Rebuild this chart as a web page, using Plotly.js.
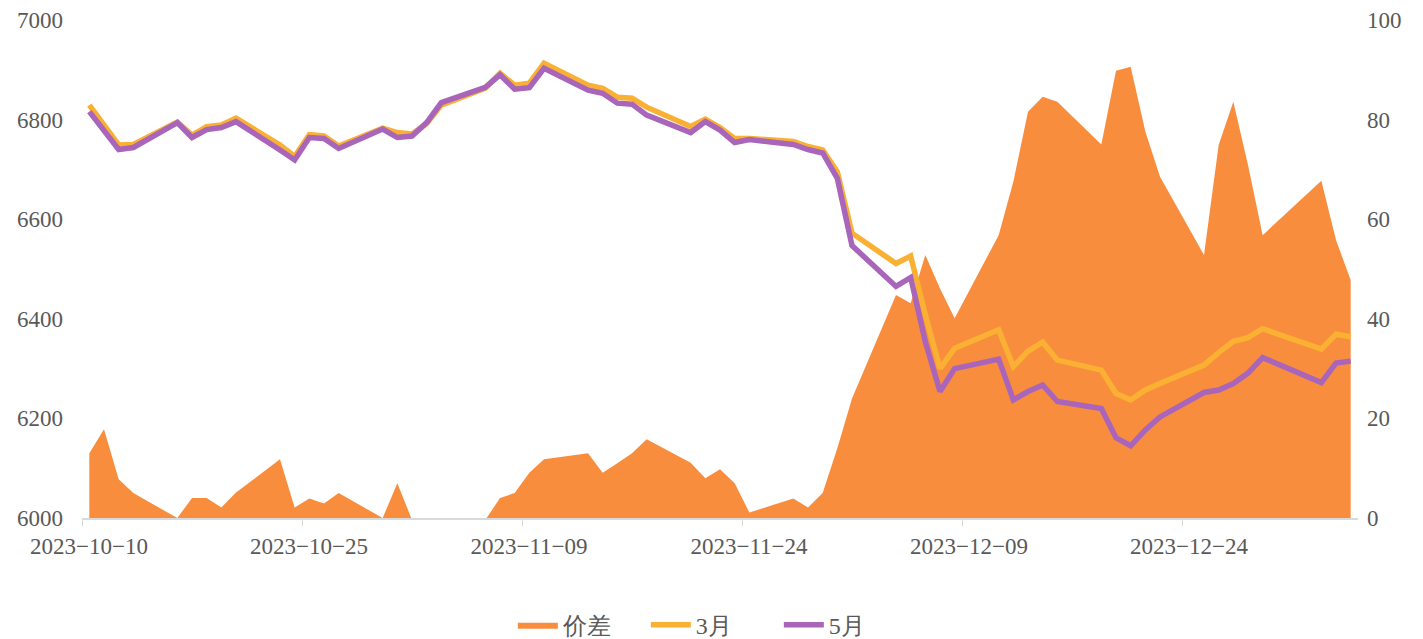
<!DOCTYPE html>
<html>
<head>
<meta charset="utf-8">
<script src="https://cdn.plot.ly/plotly-3.0.1.min.js"></script>
<style>
  html, body { margin: 0; padding: 0; background: #fff; }
  #chart { width: 1423px; height: 639px; }
</style>
</head>
<body>
<div id="chart"></div>
<script>
// trading days, 2023-10-10 .. 2024-01-04
const dates = [
  '2023-10-10', '2023-10-11', '2023-10-12', '2023-10-13',
  '2023-10-16', '2023-10-17', '2023-10-18', '2023-10-19', '2023-10-20',
  '2023-10-23', '2023-10-24', '2023-10-25', '2023-10-26', '2023-10-27',
  '2023-10-30', '2023-10-31', '2023-11-01', '2023-11-02', '2023-11-03',
  '2023-11-06', '2023-11-07', '2023-11-08', '2023-11-09', '2023-11-10',
  '2023-11-13', '2023-11-14', '2023-11-15', '2023-11-16', '2023-11-17',
  '2023-11-20', '2023-11-21', '2023-11-22', '2023-11-23', '2023-11-24',
  '2023-11-27', '2023-11-28', '2023-11-29', '2023-11-30', '2023-12-01',
  '2023-12-04', '2023-12-05', '2023-12-06', '2023-12-07', '2023-12-08',
  '2023-12-11', '2023-12-12', '2023-12-13', '2023-12-14', '2023-12-15',
  '2023-12-18', '2023-12-19', '2023-12-20', '2023-12-21', '2023-12-22',
  '2023-12-25', '2023-12-26', '2023-12-27', '2023-12-28', '2023-12-29',
  '2024-01-02', '2024-01-03', '2024-01-04'
];

// 3月
const march = [
  6829, 6790, 6749, 6750,
  6795, 6769, 6786, 6789, 6803,
  6749, 6726, 6770, 6767, 6747,
  6783, 6774, 6771, 6792, 6829,
  6863, 6893, 6869, 6873, 6913,
  6869, 6863, 6845, 6843, 6825,
  6786, 6801, 6784, 6762, 6762,
  6756, 6746, 6739, 6695, 6572,
  6511, 6526, 6408, 6300, 6341,
  6378, 6304, 6335, 6353, 6317,
  6297, 6250, 6237, 6257, 6270,
  6307, 6332, 6355, 6362, 6380,
  6339, 6369, 6364
];

// 5月
const may = [
  6816, 6776, 6740, 6744,
  6794, 6764, 6780, 6784, 6796,
  6739, 6719, 6764, 6762, 6742,
  6781, 6764, 6767, 6794, 6834,
  6865, 6890, 6861, 6864, 6903,
  6859, 6853, 6833, 6831, 6809,
  6774, 6796, 6779, 6754, 6760,
  6750, 6740, 6733, 6682, 6547,
  6465, 6483, 6354, 6254, 6300,
  6319, 6237, 6254, 6267, 6234,
  6220, 6161, 6145, 6177, 6203,
  6252, 6257, 6270, 6291, 6322,
  6272, 6311, 6315
];

// 价差
const spread = [
  13, 17.8, 7.8, 5,
  0, 4, 4, 2.1, 5.1,
  11.8, 2.1, 3.9, 2.9, 5,
  0, 7, -0.4, 0, -0.4,
  -0.4, 4, 5, 9.1, 11.8,
  13, 9.1, 11, 13, 15.8,
  11.1, 8, 9.8, 7, 1.1,
  3.9, 2.1, 5, 14, 24,
  44.8, 43.1, 52.8, 46.1, 40.1,
  56.8, 67.5, 81.6, 84.6, 83.6,
  75, 89.8, 90.6, 77.6, 68.5,
  52.8, 74.9, 83.6, 70.9, 56.8,
  67.7, 55.8, 47.8
];

const tickDates = ['2023-10-10', '2023-10-25', '2023-11-09', '2023-11-24', '2023-12-09', '2023-12-24'];

// points sit in the middle of each day, ticks on day boundaries
const x = dates.map(d => d + ' 12:00');

const textColor = '#595959';
const font = { family: '"Liberation Serif", "DejaVu Serif", serif', size: 23, color: textColor };

Plotly.newPlot('chart', [
  {
    name: '价差',
    x: x,
    y: spread,
    yaxis: 'y',
    type: 'scatter',
    mode: 'lines',
    fill: 'tozeroy',
    fillcolor: '#F98D3E',
    line: { width: 0, color: '#F98D3E' },
  },
  {
    name: '3月',
    x: x,
    y: march,
    yaxis: 'y2',
    type: 'scatter',
    mode: 'lines',
    line: { width: 5.5, color: '#FAB133' },
  },
  {
    name: '5月',
    x: x,
    y: may,
    yaxis: 'y2',
    type: 'scatter',
    mode: 'lines',
    line: { width: 5.5, color: '#A865BA' },
  }
], {
  width: 1423,
  height: 639,
  margin: { l: 82, r: 65, t: 20, b: 121, pad: 0, autoexpand: false },
  paper_bgcolor: '#fff',
  plot_bgcolor: '#fff',
  font: font,
  showlegend: true,
  legend: {
    orientation: 'h',
    x: 0.494,
    xanchor: 'center',
    y: -0.215,
    yanchor: 'middle',
    font: Object.assign({}, font, { size: 24 }),
    itemwidth: 40,
    entrywidth: 78,
    entrywidthmode: 'pixels',
  },
  xaxis: {
    type: 'date',
    range: ['2023-10-10', '2024-01-05'],
    tickvals: tickDates,
    tickformat: '%Y\u2212%m\u2212%d',
    ticks: 'outside',
    ticklen: 6,
    tickcolor: '#D9D9D9',
    showline: true,
    linecolor: '#D9D9D9',
    linewidth: 1.5,
    showgrid: false,
    zeroline: false,
    ticklabelshift: 7,
    ticklabelstandoff: 1,
    tickfont: font,
    automargin: false,
  },
  // area axis on the right, drawn underneath
  yaxis: {
    side: 'right',
    range: [0, 100],
    dtick: 20,
    showgrid: false,
    zeroline: false,
    showline: false,
    ticks: '',
    ticklabelstandoff: 8,
    tickfont: font,
    automargin: false,
  },
  // price axis on the left, lines drawn on top
  yaxis2: {
    overlaying: 'y',
    side: 'left',
    range: [6000, 7000],
    dtick: 200,
    showgrid: false,
    zeroline: false,
    showline: false,
    ticks: '',
    ticklabelstandoff: 18,
    tickfont: font,
    automargin: false,
  },
}, {
  staticPlot: true,
});
</script>
</body>
</html>
